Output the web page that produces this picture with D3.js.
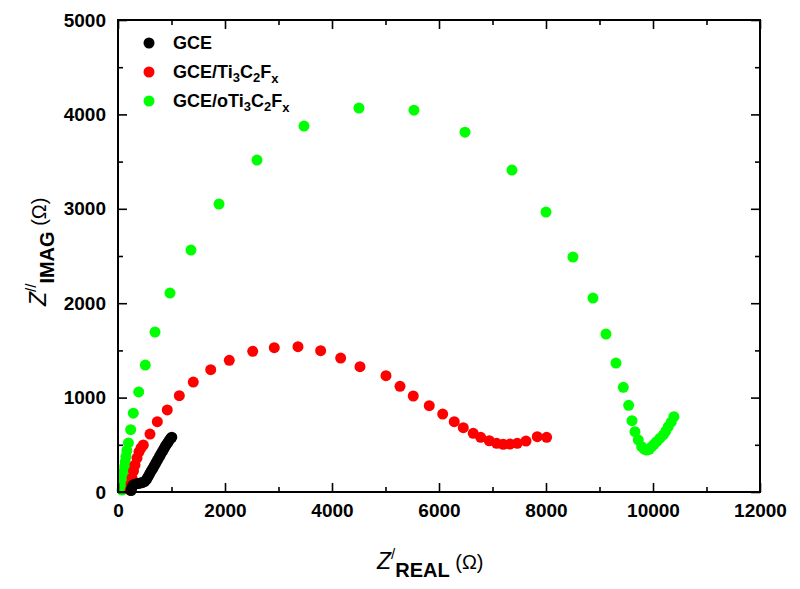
<!DOCTYPE html>
<html><head><meta charset="utf-8">
<script src="https://cdn.jsdelivr.net/npm/d3@7"></script>
<style>body{margin:0;background:#fff}svg{display:block}text{font-family:"Liberation Sans",Arial,sans-serif}</style>
</head><body><svg id="c" width="800" height="589"></svg>
<script>
const xTicks=[0,2000,4000,6000,8000,10000,12000];
const yTicks=[0,1000,2000,3000,4000,5000];
const gceX=[245,258,275,300,335,375,415,455,495,530,560,590,620,650,680,710,740,770,800,830,860,890,920,950,980,1005];
const gceY=[15,45,68,80,85,90,95,100,110,130,160,190,220,250,280,310,340,370,400,430,460,490,515,540,565,580];
const tiX=[224,243,262,290,318,355,392,430,473,598,735,921,1146,1407,1733,2080,2518,2921,3364,3788,4162,4523,5009,5271,5519,5818,6069,6285,6454,6640,6779,6940,7078,7201,7327,7463,7626,7837,8012];
const tiY=[21,85,148,222,286,360,424,466,498,614,745,869,1020,1165,1296,1395,1490,1529,1539,1497,1419,1327,1232,1120,1017,914,826,745,681,622,579,543,516,505,508,516,540,586,579];
const oTiX=[75,85,95,105,115,125,135,148,165,195,237,286,387,510,692,972,1364,1888,2598,3477,4504,5532,6486,7364,8000,8504,8878,9121,9308,9445,9545,9607,9663,9725,9788,9835,9881,9930,9975,10020,10068,10130,10192,10240,10285,10340,10391];
const oTiY=[20,70,120,170,220,270,320,375,440,520,660,835,1060,1345,1694,2107,2563,3050,3516,3876,4067,4045,3812,3410,2965,2489,2054,1673,1366,1109,918,755,639,551,480,455,445,452,480,505,533,570,604,645,692,740,798];
const seriesNames=["GCE","GCE/Ti3C2Fx","GCE/oTi3C2Fx"];
const seriesColors=["#000000","#ff0000","#00ff00"];

const svg=d3.select("#c");
const L=118,R=760,T=20,B=492;
const x=d3.scaleLinear().domain([0,12000]).range([L,R]);
const y=d3.scaleLinear().domain([0,5000]).range([B,T]);

const series=[[gceX,gceY],[tiX,tiY],[oTiX,oTiY]].map((s,i)=>({c:seriesColors[i],pts:s[0].map((v,j)=>[v,s[1][j]])}));
const order=[2,1,0];
order.forEach(i=>{
  svg.append("g").selectAll("circle").data(series[i].pts).join("circle")
    .attr("cx",d=>x(d[0])).attr("cy",d=>y(d[1])).attr("r",5.5).attr("fill",series[i].c);
});

const xMinor=d3.range(1000,12000,2000), yMinor=d3.range(500,5000,1000);
const tf=d3.format("d");
function styleAxis(g){g.select(".domain").remove();g.selectAll("line").attr("stroke","#000").attr("stroke-width",1.6);}
function lab(g){g.selectAll("text").attr("font-size",19).attr("font-weight","bold").attr("fill","#000");}
svg.append("g").attr("transform",`translate(0,${B})`).call(d3.axisBottom(x).tickValues(xTicks).tickSizeInner(-9).tickSizeOuter(0).tickPadding(12).tickFormat(tf)).call(styleAxis).call(lab);
svg.append("g").attr("transform",`translate(0,${B})`).call(d3.axisBottom(x).tickValues(xMinor).tickSizeInner(-5).tickSizeOuter(0).tickFormat("")).call(styleAxis);
svg.append("g").attr("transform",`translate(0,${T})`).call(d3.axisTop(x).tickValues(xTicks).tickSizeInner(-9).tickSizeOuter(0).tickFormat("")).call(styleAxis);
svg.append("g").attr("transform",`translate(0,${T})`).call(d3.axisTop(x).tickValues(xMinor).tickSizeInner(-5).tickSizeOuter(0).tickFormat("")).call(styleAxis);
svg.append("g").attr("transform",`translate(${L},0)`).call(d3.axisLeft(y).tickValues(yTicks).tickSizeInner(-9).tickSizeOuter(0).tickPadding(12).tickFormat(tf)).call(styleAxis).call(lab);
svg.append("g").attr("transform",`translate(${L},0)`).call(d3.axisLeft(y).tickValues(yMinor).tickSizeInner(-5).tickSizeOuter(0).tickFormat("")).call(styleAxis);
svg.append("g").attr("transform",`translate(${R},0)`).call(d3.axisRight(y).tickValues(yTicks).tickSizeInner(-9).tickSizeOuter(0).tickFormat("")).call(styleAxis);
svg.append("g").attr("transform",`translate(${R},0)`).call(d3.axisRight(y).tickValues(yMinor).tickSizeInner(-5).tickSizeOuter(0).tickFormat("")).call(styleAxis);
svg.append("rect").attr("x",L).attr("y",T).attr("width",R-L).attr("height",B-T).attr("fill","none").attr("stroke","#000").attr("stroke-width",2);

// legend
const legY=[43,72,101];
seriesNames.forEach((n,i)=>{
  svg.append("circle").attr("cx",149).attr("cy",legY[i]).attr("r",5.5).attr("fill",seriesColors[i]);
  const t=svg.append("text").attr("x",173).attr("y",legY[i]+6).attr("font-size",18).attr("font-weight","bold").attr("fill","#000");
  const m=n.match(/^(GCE\/o?Ti)3C2Fx$/);
  if(!m){t.text(n);}
  else{
    t.append("tspan").text(m[1]);
    t.append("tspan").text("3").attr("font-size",13).attr("dy",4);
    t.append("tspan").text("C").attr("dy",-4);
    t.append("tspan").text("2").attr("font-size",13).attr("dy",4);
    t.append("tspan").text("F").attr("dy",-4);
    t.append("tspan").text("x").attr("font-size",13).attr("dy",5);
  }
});

// x title
const xt=svg.append("text").attr("x",377).attr("y",569).attr("fill","#000");
xt.append("tspan").text("Z").attr("font-size",23).attr("font-style","italic");
xt.append("tspan").text("/").attr("font-size",15).attr("dy",-10);
xt.append("tspan").text("REAL").attr("font-size",20).attr("font-weight","bold").attr("dy",18);
xt.append("tspan").text(" (Ω)").attr("font-size",20).attr("dy",-8);
// y title
const yt=svg.append("text").attr("transform","translate(46,306) rotate(-90)").attr("fill","#000");
yt.append("tspan").text("Z").attr("font-size",23).attr("font-style","italic");
yt.append("tspan").text("//").attr("font-size",15).attr("dy",-10);
yt.append("tspan").text("IMAG").attr("font-size",20).attr("font-weight","bold").attr("dy",18);
yt.append("tspan").text(" (Ω)").attr("font-size",20).attr("dy",-8);
</script></body></html>
